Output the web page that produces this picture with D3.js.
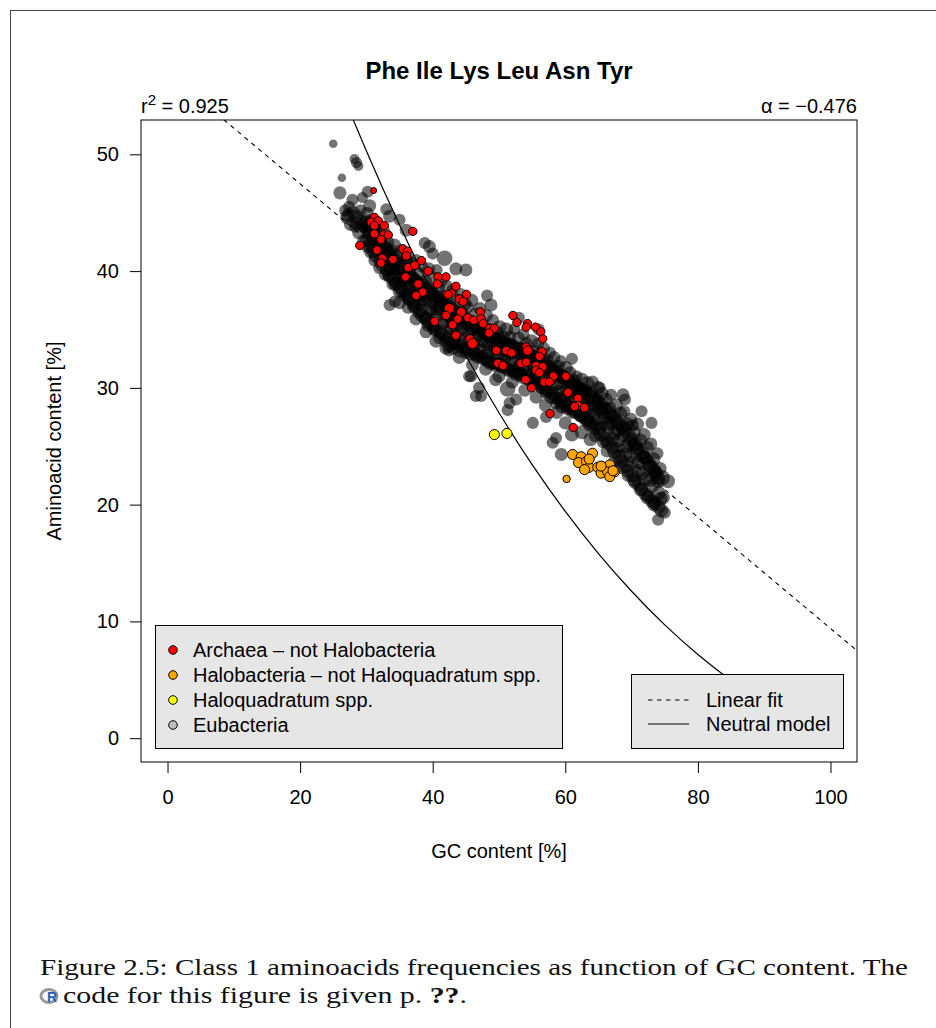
<!DOCTYPE html>
<html><head><meta charset="utf-8">
<script src="https://cdn.jsdelivr.net/npm/d3@7"></script>
<style>
html,body{margin:0;padding:0;background:#fff;}
svg{display:block;font-family:"Liberation Sans",Arial,Helvetica,sans-serif;}
</style></head>
<body>
<script>
// ---------------- DATA ----------------
const title = "Phe Ile Lys Leu Asn Tyr";
const xTicks = [0, 20, 40, 60, 80, 100];
const yTicks = [0, 10, 20, 30, 40, 50];
const r2Value = "0.925";
const alphaValue = "\u22120.476";
// linear fit: aa = intercept + slope * gc
const fitIntercept = 57.0;
const fitSlope = -0.476;
// neutral model curve (GC %, aa %)
const neutralGC = [25, 28, 30, 35, 40, 45, 50, 55, 60, 65, 70, 75, 80, 85, 90, 95, 100];
const neutralAA = [57.17, 52.98, 50.29, 43.94, 38.10, 32.75, 27.87, 23.43, 19.42, 15.81, 12.58, 9.70, 7.16, 4.94, 3.02, 1.38, 0];
const legendGroups = ["Archaea \u2013 not Halobacteria", "Halobacteria \u2013 not Haloquadratum spp.", "Haloquadratum spp.", "Eubacteria"];
const legendLines = ["Linear fit", "Neutral model"];
// points: [GC %, aminoacid %, genome size]
const eubacteria = [
[25.0,50.9,1.5],[28.2,49.6,2],[28.5,49.3,2.5],[28.8,49.0,2],[26.3,48.0,1.5],[26.0,46.7,3.5],[30.2,46.8,3],[29.4,46.3,2.5],[27.9,46.1,3],[30.5,45.6,3.5],
[26.8,45.2,3],[27.1,44.6,4],[27.4,45.5,3],[27.6,44.0,3.5],[28.0,45.0,4],[28.3,43.8,3],[28.5,44.7,3.5],[28.9,43.3,4],[29.1,45.2,3],[29.3,44.2,4],[29.6,42.6,3.5],[29.8,43.7,3],
[30.1,44.9,4],[30.2,42.0,3],[30.4,43.4,3.5],[30.6,41.6,3],[30.8,44.3,4],[31.0,42.8,3.5],[31.2,40.9,3],[31.3,43.6,4],[31.5,41.9,3.5],[31.8,44.0,3],[32.0,40.3,3.5],[32.1,42.6,4],[32.4,41.4,3],[32.6,43.4,3.5],[32.8,39.7,3],[33.0,41.0,4],[33.2,42.5,3.5],[33.4,39.5,3],[33.6,40.3,4],[33.8,41.8,3],[34.0,38.9,3.5],[34.2,42.2,4],[34.4,40.1,3],[34.6,39.0,4],[34.8,41.3,3.5],
[33.0,45.3,3],[33.5,44.7,3.5],[35.0,44.4,3],[36.0,43.5,3.5],[34.3,37.4,3],[33.5,37.1,3],
[35.0,38.3,4],[35.1,40.6,3.5],[35.3,41.8,3],[35.5,39.4,4],[35.7,37.9,3],[35.9,40.9,4],[36.1,38.8,3.5],[36.2,41.2,3],[36.4,37.7,4],[36.6,39.8,3.5],[36.8,40.6,4],[37.0,38.2,3],[37.1,37.0,3.5],[37.3,39.2,4],[37.5,40.9,3.5],[37.7,38.0,4],[37.9,36.4,3],[38.0,39.7,4],[38.2,37.3,3.5],[38.4,40.4,3],[38.6,38.5,4],[38.8,36.0,3.5],[38.9,39.1,4],[39.1,37.4,3],[39.3,35.4,4],[39.4,40.2,3.5],[39.6,38.2,4],[39.8,36.6,3.5],[40.0,39.4,4],[40.1,35.0,3],[40.3,37.7,4],[40.5,36.1,3.5],[40.6,40.1,3],[40.8,38.6,4],
[38.8,42.4,3],[39.5,42.1,3.5],[40.0,41.5,3],[41.8,41.1,5],[43.5,40.2,3.5],[45.0,40.1,3.5],
[41.0,34.3,3.5],[41.1,36.9,4],[41.3,39.2,3.5],[41.5,35.5,4],[41.7,37.8,3.5],[41.9,34.0,3],[42.0,38.7,4],[42.2,36.3,3.5],[42.4,33.6,4],[42.6,37.2,3.5],[42.8,35.1,4],[43.0,38.4,3],[43.1,33.4,3.5],[43.3,36.0,4],[43.5,34.4,3.5],[43.7,37.5,4],[43.9,35.4,3],[44.1,33.2,4],[44.2,38.0,3.5],[44.4,36.4,4],[44.6,34.6,3.5],[44.8,37.2,4],[45.0,33.0,3.5],[45.1,35.6,4],[45.3,36.9,3],[45.5,34.0,4],[45.7,32.9,3.5],[45.9,37.5,3.5],[46.1,35.0,4],[46.3,33.6,3.5],[46.5,36.3,4],[46.7,32.6,3],
[46.9,34.5,4],[47.1,36.8,3.5],[47.3,33.2,4],[47.5,35.5,3.5],[47.7,32.4,3],[47.9,34.0,4],[48.1,36.2,3.5],[48.3,33.0,4],[48.5,35.0,3.5],[48.7,32.1,4],[48.9,34.1,3.5],[49.1,35.8,3],[49.3,33.3,4],[49.5,31.9,3.5],[49.7,34.7,4],[49.9,32.8,3.5],[50.1,35.2,4],[50.3,33.8,3.5],[50.5,31.7,3],[50.7,34.3,4],[50.9,32.6,3.5],[51.1,35.0,4],[51.3,33.1,3.5],[51.5,31.5,4],[51.7,34.4,3],[51.9,32.4,4],[52.1,33.6,3.5],[52.3,35.0,3],[52.5,31.2,4],[52.7,33.0,3.5],
[52.9,34.2,4],[53.1,31.9,3.5],[53.3,33.3,4],[53.5,30.9,3.5],[53.7,34.6,3],[53.9,32.4,4],[54.1,33.8,3.5],[54.3,31.2,4],[54.5,32.8,3.5],[54.7,30.6,3],[54.9,34.0,4],[55.1,31.8,3.5],[55.3,33.1,4],[55.5,30.4,3.5],[55.7,32.4,4],[55.9,33.8,3],[56.1,31.1,4],[56.3,32.9,3.5],[56.5,30.1,4],[56.7,33.4,3.5],[56.9,31.6,4],[57.1,29.6,3.5],[57.3,32.3,4],[57.5,30.7,3.5],[57.7,33.0,3],[57.9,29.2,4],[58.1,31.5,4],[58.3,32.6,3.5],[58.5,30.3,4],[58.7,28.7,3.5],
[58.9,31.8,4],[59.1,29.7,3.5],[59.3,32.3,3],[59.5,28.4,4],[59.7,30.9,4],[59.9,29.3,3.5],[60.1,31.7,4],[60.3,28.2,3.5],[60.5,30.3,4],[60.7,31.3,3.5],[60.9,29.0,4],[61.1,27.9,3.5],[61.3,30.6,4],[61.5,29.5,3.5],[61.7,31.0,3],[61.9,28.2,4],[62.1,29.9,4],[62.3,27.6,3.5],[62.5,30.7,4],[62.7,28.8,3.5],[62.9,29.8,4],[63.1,27.2,3.5],[63.3,30.4,4],[63.5,28.3,4],[63.7,26.8,3.5],[63.9,29.5,4],[64.1,30.5,3.5],[64.3,27.7,4],[64.5,25.9,3.5],[64.7,28.9,4],
[64.9,30.0,4],[65.1,26.6,4],[65.3,28.2,3.5],[65.5,29.5,4],[65.7,25.4,3.5],[65.9,27.4,4],[66.1,29.0,4],[66.3,24.6,3.5],[66.5,26.6,4],[66.7,28.3,3.5],[66.9,29.4,3],[67.1,25.6,4],[67.3,27.5,4],[67.5,23.8,3.5],[67.7,28.5,4],[67.9,26.4,4],[68.1,24.8,3.5],[68.3,27.8,4],[68.5,23.2,4],[68.7,25.9,3.5],[68.9,28.0,3],[69.1,24.3,4],[69.3,26.9,4],[69.5,22.5,3.5],[69.7,25.3,4],[69.9,27.3,3.5],[70.1,23.6,4],[70.3,26.2,4],[70.5,21.9,3.5],[70.7,24.7,4],
[70.9,26.9,3.5],[71.1,22.9,4],[71.3,25.5,4],[71.5,21.3,3.5],[71.7,24.1,4],[71.9,26.0,3.5],[72.1,22.2,4],[72.3,24.9,4],[72.5,20.7,3.5],[72.7,23.3,4],[72.9,25.2,3.5],[73.1,21.6,4],[73.3,23.9,4],[73.5,20.1,3.5],[73.7,22.6,4],[73.9,24.4,3],[74.1,21.0,4],[74.3,23.1,3.5],[74.5,19.5,4],[74.6,22.3,5],[74.8,20.6,3.5],[75.0,19.3,3],
[45.8,31.0,3],[47.0,30.0,3],[47.3,29.3,3],[49.5,30.7,3.5],[51.3,29.9,5],[52.6,29.0,3],[51.3,28.1,3],[55.1,27.0,3],[58.6,25.7,3],[59.4,24.3,3.5],[58.1,25.3,3],[57.1,27.5,3],[68.7,29.4,3.5],[69.0,29.0,3],[70.2,26.8,3],[65.2,30.0,3],[48.2,37.9,3],[48.8,37.1,3.5],[42.5,33.2,3],[45.5,31.0,3],[46.5,29.3,3],[51.6,28.7,3],[75.5,22.0,4],[74.0,18.7,3],[73.0,27.0,3],[71.5,28.0,3],[61.0,32.5,3],[56.0,35.0,3],[53.0,36.0,3],
[27.3,44.8,4],[28.6,44.1,4],[29.5,43.9,4],[30.3,43.3,4],[31.1,42.5,4],[31.9,42.0,4],[32.5,41.7,4],[33.1,41.6,4],[33.7,40.9,4],[34.1,40.5,4],[34.7,40.2,4],[35.2,39.6,4],[35.8,39.2,4],[36.3,39.4,4],[36.9,38.7,4],[37.4,38.6,4],[38.1,38.0,4],[38.5,37.6,4],[39.0,37.9,4],[39.5,36.8,4],
[40.2,37.2,4],[40.7,36.7,4],[41.2,37.4,4],[41.6,36.4,4],[42.1,35.7,4],[42.7,36.0,4],[43.2,35.3,4],[43.8,36.2,4],[44.3,35.0,4],[44.9,35.6,4],[45.4,34.6,4],[45.9,35.3,4],[46.4,34.3,4],[46.9,35.1,4],[47.4,34.0,4],[48.0,34.7,4],[48.4,33.7,4],[49.0,34.4,4],[49.5,33.4,4],[50.0,33.8,4],
[50.6,32.9,4],[51.2,33.6,4],[51.8,33.0,4],[52.4,32.7,4],[53.0,33.3,4],[53.6,32.5,4],[54.2,32.0,4],[54.8,32.8,4],[55.4,31.7,4],[56.0,32.3,4],[56.6,31.3,4],[57.2,31.8,4],[57.8,30.8,4],[58.4,31.2,4],[59.0,30.4,4],[59.6,30.9,4],[60.2,29.8,4],[60.8,30.2,4],[61.4,29.1,4],[62.0,29.6,4],
[62.6,28.7,4],[63.2,28.9,4],[63.8,28.0,4],[64.4,28.5,4],[65.0,27.4,4],[65.6,27.9,4],[66.2,26.9,4],[66.8,27.0,4],[67.4,26.1,4],[68.0,25.5,4],[68.6,26.6,4],[69.2,25.0,4],[69.8,24.2,4],[70.4,25.1,4],[71.0,23.6,4],[71.6,22.7,4],[72.2,23.9,4],[72.8,22.1,4],[73.4,22.9,4],[74.0,22.0,4],
[74.4,20.5,4],[61.0,26.0,4],[62.5,26.2,4],[63.8,25.6,4],[60.0,27.0,3.5],[58.7,27.9,3.5],[57.0,28.5,3.5],[55.6,29.2,3.5],[53.9,29.8,3.5],[52.0,30.5,3.5],[50.0,31.0,3.5],[48.0,31.6,3.5],[46.0,32.0,3.5],[44.0,32.6,3.5],[42.0,33.4,3.5],[40.5,34.0,3.5],[39.0,34.8,3.5],[37.5,35.9,3.5],[36.3,36.9,3.5],[35.0,37.3,3.5],
[30.0,44.2,4],[30.1,42.6,4],[30.6,43.8,4],[30.4,42.2,4],[31.0,43.4,4],[31.1,41.7,4],[31.6,43.0,4],[31.4,41.3,4],[32.0,42.6,4],[32.1,40.9,4],[32.6,42.2,4],[32.4,40.5,4],[33.0,41.9,4],[33.1,40.1,4],[33.6,41.5,4],[33.4,39.7,4],[34.0,41.1,4],[34.1,39.3,4],[34.6,40.8,4],[34.4,38.9,4],
[35.0,40.4,4],[35.1,38.6,4],[35.6,40.1,4],[35.4,38.3,4],[36.0,39.9,4],[36.1,38.0,4],[36.6,39.6,4],[36.4,37.6,4],[37.0,39.4,4],[37.1,37.3,4],[37.6,39.1,4],[37.4,36.9,4],[38.0,38.9,4],[38.1,36.6,4],[38.6,38.7,4],[38.4,36.2,4],[39.0,38.5,4],[39.1,35.9,4],[39.6,38.3,4],[39.4,35.6,4],
[40.0,38.1,4],[40.1,35.3,4],[40.6,37.8,4],[40.4,35.0,4],[41.0,37.6,4],[41.1,34.8,4],[41.6,37.3,4],[41.4,34.6,4],[42.0,37.1,4],[42.1,34.4,4],[42.6,36.9,4],[42.4,34.2,4],[43.0,36.7,4],[43.1,34.0,4],[43.6,36.5,4],[43.4,33.8,4],[44.0,36.3,4],[44.1,33.7,4],[44.6,36.1,4],[44.4,33.5,4],
[45.0,35.9,4],[45.1,33.4,4],[45.6,35.7,4],[45.4,33.2,4],[46.0,35.5,4],[46.1,33.1,4],[46.6,35.3,4],[46.4,32.9,4],[47.0,35.1,4],[47.1,32.8,4],[47.6,34.9,4],[47.4,32.6,4],[48.0,34.7,4],[48.1,32.5,4],[48.6,34.5,4],[48.4,32.3,4],[49.0,34.4,4],[49.1,32.2,4],[49.6,34.2,4],[49.4,32.1,4],
[50.0,34.1,4],[50.1,32.0,4],[50.6,33.9,4],[50.4,31.9,4],[51.0,33.8,4],[51.1,31.8,4],[51.6,33.7,4],[51.4,31.6,4],[52.0,33.6,4],[52.1,31.5,4],[52.6,33.4,4],[52.4,31.4,4],[53.0,33.3,4],[53.1,31.2,4],[53.6,33.2,4],[53.4,31.1,4],[54.0,33.0,4],[54.1,31.0,4],[54.6,32.9,4],[54.4,30.8,4],
[55.0,32.7,4],[55.1,30.7,4],[55.6,32.6,4],[55.4,30.5,4],[56.0,32.4,4],[56.1,30.3,4],[56.6,32.2,4],[56.4,30.1,4],[57.0,32.0,4],[57.1,29.9,4],[57.6,31.8,4],[57.4,29.7,4],[58.0,31.6,4],[58.1,29.5,4],[58.6,31.4,4],[58.4,29.2,4],[59.0,31.2,4],[59.1,29.0,4],[59.6,31.0,4],[59.4,28.8,4],
[60.0,30.8,4],[60.1,28.6,4],[60.6,30.6,4],[60.4,28.4,4],[61.0,30.4,4],[61.1,28.2,4],[61.6,30.2,4],[61.4,28.0,4],[62.0,30.0,4],[62.1,27.8,4],[62.6,29.8,4],[62.4,27.6,4],[63.0,29.6,4],[63.1,27.4,4],[63.6,29.4,4],[63.4,27.2,4],[64.0,29.2,4],[64.1,26.9,4],[64.6,29.0,4],[64.4,26.6,4],
[65.0,28.8,4],[65.1,26.3,4],[65.6,28.5,4],[65.4,26.0,4],[66.0,28.2,4],[66.1,25.6,4],[66.6,27.9,4],[66.4,25.3,4],[67.0,27.6,4],[67.1,24.9,4],[67.6,27.3,4],[67.4,24.5,4],[68.0,27.0,4],[68.1,24.1,4],[68.6,26.7,4],[68.4,23.7,4],[69.0,26.4,4],[69.1,23.3,4],[69.6,26.0,4],[69.4,22.9,4],
[70.0,25.6,4],[70.1,22.5,4],[70.6,25.2,4],[70.4,22.1,4],[71.0,24.8,4],[71.1,21.7,4],[71.6,24.4,4],[71.4,21.3,4],[72.0,24.0,4],[72.1,20.9,4],[72.6,23.6,4],[72.4,20.6,4],[73.0,23.2,4],[73.1,20.3,4],[73.6,22.8,4],[73.4,20.0,4],[74.0,22.3,4],[74.1,19.8,4]
];
const archaea = [
[31.1,46.9,0.9],[31.2,44.6,1.8],[30.7,44.2,1.8],[31.8,44.3,1.8],[31.2,43.9,1.8],[32.7,43.9,1.8],[37.0,43.4,1.8],[31.2,43.2,1.8],[32.6,43.1,1.8],[33.3,43.1,1.8],
[32.2,42.7,1.8],[29.0,42.2,1.8],[31.6,41.8,1.8],[35.5,41.9,1.8],[36.2,41.7,1.8],[36.0,41.3,1.8],[32.4,41.1,1.8],[34.0,41.0,1.8],[32.2,40.7,1.8],[38.3,40.9,1.8],
[36.3,40.3,1.8],[37.3,40.5,1.8],[39.3,40.0,1.8],[40.8,39.5,1.8],[42.0,39.5,1.8],[35.9,39.5,1.8],[40.7,38.9,1.8],[37.8,38.9,1.8],[38.5,38.2,1.8],[37.5,37.9,1.8],
[43.5,38.7,1.8],[42.8,38.1,1.8],[42.3,38.0,1.8],[45.1,38.0,1.8],[44.0,37.6,1.8],[44.6,37.4,1.8],[42.5,36.8,2.6],[42.0,36.2,1.8],[44.3,36.5,2.2],[43.8,35.9,1.8],
[45.3,36.0,1.8],[46.2,35.8,1.8],[47.2,36.5,1.8],[47.3,35.9,1.8],[40.3,35.7,1.8],[43.0,35.4,1.8],[43.5,34.5,1.8],[45.6,34.2,1.8],[46.0,33.8,2.6],[47.6,35.5,1.8],
[48.6,35.1,1.8],[49.3,35.1,1.8],[48.5,34.7,1.8],[52.1,36.2,1.8],[52.7,35.6,1.8],[54.3,35.5,1.8],[54.1,35.2,1.8],[55.5,35.2,1.8],[56.3,34.8,1.8],[56.6,34.2,1.8],
[49.6,33.2,1.8],[51.1,33.2,1.8],[51.9,33.0,1.8],[54.1,33.5,1.8],[54.3,33.2,2.2],[56.5,33.1,1.8],[56.1,32.7,1.8],[49.8,32.1,1.8],[50.6,31.9,1.8],[53.3,32.1,1.8],
[54.1,32.2,1.8],[55.6,31.9,1.8],[56.6,31.8,1.8],[55.6,31.5,1.8],[56.1,31.3,1.8],[58.2,31.0,1.8],[54.0,30.7,1.8],[56.8,30.5,1.8],[57.6,30.5,1.8],[54.9,30.0,1.8],
[60.1,31.0,1.8],[60.4,29.6,1.8],[61.9,29.1,1.8],[61.9,28.5,1.8],[61.4,28.4,1.8],[62.9,28.3,1.8],[57.7,27.8,1.8],[61.2,26.6,1.8]
];
const halobacteria = [
[61.1,24.3,2.6],[62.4,24.1,2.6],[64.1,24.4,2.6],[62.0,23.6,2.6],[63.2,23.7,2.6],[63.6,23.2,2.6],[62.9,23.0,2.6],[64.9,23.2,2.6],[65.9,23.2,2.6],[66.7,23.4,2.6],
[65.4,22.7,2.6],[66.4,22.8,2.6],[67.4,22.8,2.6],[66.7,22.4,2.6],[63.6,23.9,2.6],[60.2,22.2,1.4],[65.4,23.3,2.6],[67.2,22.9,2.6]
];
const haloquadratum = [[49.3,26.0,2.6],[51.2,26.1,2.6]];

// ---------------- CHART ----------------
const W = 936, H = 1028;
const FS = 20;
const svg = d3.select("body").append("svg").attr("width", W).attr("height", H);
svg.append("rect").attr("width", W).attr("height", H).attr("fill", "#fff");
// page frame
svg.append("rect").attr("x", 10.5).attr("y", 10.5).attr("width", 1000).attr("height", 1100)
  .attr("fill", "none").attr("stroke", "#444").attr("stroke-width", 1);

const box = {l: 141, r: 857, t: 120, b: 762};
const x = d3.scaleLinear().domain([-4, 104]).range([box.l, box.r]);
const y = d3.scaleLinear().domain([-2.04, 52.94]).range([box.b, box.t]);
const rad = d3.scaleSqrt().domain([0, 5]).range([0, 7.0]);
const radGray = d3.scaleSqrt().domain([0, 5]).range([0, 7.8]);

svg.append("clipPath").attr("id", "clip").append("rect")
  .attr("x", box.l).attr("y", box.t).attr("width", box.r - box.l).attr("height", box.b - box.t);
const plot = svg.append("g").attr("clip-path", "url(#clip)");

// Eubacteria cloud
plot.append("g").selectAll("circle").data(eubacteria).join("circle")
  .attr("cx", d => x(d[0])).attr("cy", d => y(d[1])).attr("r", d => radGray(d[2]))
  .attr("fill", "#000").attr("fill-opacity", 0.55);

// linear fit
plot.append("line")
  .attr("x1", x(-4)).attr("y1", y(fitIntercept + fitSlope * -4))
  .attr("x2", x(104)).attr("y2", y(fitIntercept + fitSlope * 104))
  .attr("stroke", "#000").attr("stroke-width", 1.1).attr("stroke-dasharray", "4.5,4.5");
// neutral model
const nData = neutralGC.map((g, i) => [g, neutralAA[i]]);
plot.append("path").datum(nData)
  .attr("d", d3.line().x(d => x(d[0])).y(d => y(d[1])).curve(d3.curveMonotoneX))
  .attr("fill", "none").attr("stroke", "#000").attr("stroke-width", 1.2);

function colored(data, fill) {
  plot.append("g").selectAll("circle").data(data).join("circle")
    .attr("cx", d => x(d[0])).attr("cy", d => y(d[1])).attr("r", d => rad(d[2]))
    .attr("fill", fill).attr("stroke", "#000").attr("stroke-width", 1);
}
colored(archaea, "#ff0000");
colored(halobacteria, "#ffa500");
colored(haloquadratum, "#ffff00");

// box
svg.append("rect").attr("x", box.l).attr("y", box.t).attr("width", box.r - box.l).attr("height", box.b - box.t)
  .attr("fill", "none").attr("stroke", "#000").attr("stroke-width", 1);

// axes
const xAxis = d3.axisBottom(x).tickValues(xTicks).tickSize(11).tickPadding(17);
const gx = svg.append("g").attr("transform", `translate(0,${box.b})`).call(xAxis);
gx.select(".domain").remove();
gx.selectAll("text").attr("font-size", FS).attr("font-family", "Liberation Sans, Arial, sans-serif").attr("fill", "#000");
const yAxis = d3.axisLeft(y).tickValues(yTicks).tickSize(11).tickPadding(11);
const gy = svg.append("g").attr("transform", `translate(${box.l},0)`).call(yAxis);
gy.select(".domain").remove();
gy.selectAll("text").attr("font-size", FS).attr("font-family", "Liberation Sans, Arial, sans-serif").attr("fill", "#000");

// titles
svg.append("text").attr("x", (box.l + box.r) / 2).attr("y", 79).attr("text-anchor", "middle")
  .attr("font-size", 24).attr("font-weight", "bold").text(title);
svg.append("text").attr("x", (box.l + box.r) / 2).attr("y", 858).attr("text-anchor", "middle")
  .attr("font-size", FS).text("GC content [%]");
svg.append("text").attr("transform", `translate(61,${(box.t + box.b) / 2}) rotate(-90)`).attr("text-anchor", "middle")
  .attr("font-size", FS).text("Aminoacid content [%]");

const r2 = svg.append("text").attr("x", box.l).attr("y", 113).attr("font-size", FS);
r2.append("tspan").text("r");
r2.append("tspan").attr("dy", -8).attr("font-size", 15).text("2");
r2.append("tspan").attr("dy", 8).text(" = " + r2Value);
svg.append("text").attr("x", box.r).attr("y", 113).attr("text-anchor", "end").attr("font-size", FS)
  .text("\u03b1 = " + alphaValue);

// legend 1
const lg1 = {x: 155, y: 625, w: 407, h: 123};
svg.append("rect").attr("x", lg1.x + 0.5).attr("y", lg1.y + 0.5).attr("width", lg1.w).attr("height", lg1.h)
  .attr("fill", "#e6e6e6").attr("stroke", "#000").attr("stroke-width", 1);
const legCols = ["#ff0000", "#ffa500", "#ffff00", "#bebebe"];
const rowY = [650, 675, 700, 725];
legendGroups.forEach((t, i) => {
  svg.append("circle").attr("cx", 173).attr("cy", rowY[i]).attr("r", 4.3)
    .attr("fill", legCols[i]).attr("stroke", "#000").attr("stroke-width", 1);
  svg.append("text").attr("x", 193).attr("y", rowY[i] + 7).attr("font-size", FS).text(t);
});
// legend 2
const lg2 = {x: 631, y: 674, w: 212, h: 74};
svg.append("rect").attr("x", lg2.x + 0.5).attr("y", lg2.y + 0.5).attr("width", lg2.w).attr("height", lg2.h)
  .attr("fill", "#e6e6e6").attr("stroke", "#000").attr("stroke-width", 1);
const row2Y = [700, 724];
legendLines.forEach((t, i) => {
  svg.append("line").attr("x1", 648).attr("x2", 689).attr("y1", row2Y[i]).attr("y2", row2Y[i])
    .attr("stroke", "#000").attr("stroke-width", 1.1).attr("stroke-dasharray", i === 0 ? "4.5,4.5" : null);
  svg.append("text").attr("x", 706).attr("y", row2Y[i] + 7).attr("font-size", FS).text(t);
});

// caption
const cap = svg.append("g").attr("font-family", "Liberation Serif, 'Times New Roman', serif").attr("fill", "#111");
cap.append("text").attr("x", 40).attr("y", 975).attr("font-size", 23)
  .attr("textLength", 868).attr("lengthAdjust", "spacingAndGlyphs")
  .text("Figure 2.5: Class 1 aminoacids frequencies as function of GC content. The");
cap.append("ellipse").attr("cx", 49).attr("cy", 996).attr("rx", 8).attr("ry", 6.5)
  .attr("fill", "none").attr("stroke", "#9a9a9a").attr("stroke-width", 3);
cap.append("text").attr("x", 52).attr("y", 1002).attr("text-anchor", "middle").attr("font-size", 14)
  .attr("font-weight", "bold").attr("font-family", "Liberation Sans, Arial, sans-serif").attr("fill", "#1f5fbf").text("R");
const l2 = cap.append("text").attr("x", 63).attr("y", 1003).attr("font-size", 23)
  .attr("textLength", 404).attr("lengthAdjust", "spacingAndGlyphs");
l2.append("tspan").text("code for this figure is given p. ");
l2.append("tspan").attr("font-weight", "bold").text("??");
l2.append("tspan").text(".");
</script>
</body></html>
